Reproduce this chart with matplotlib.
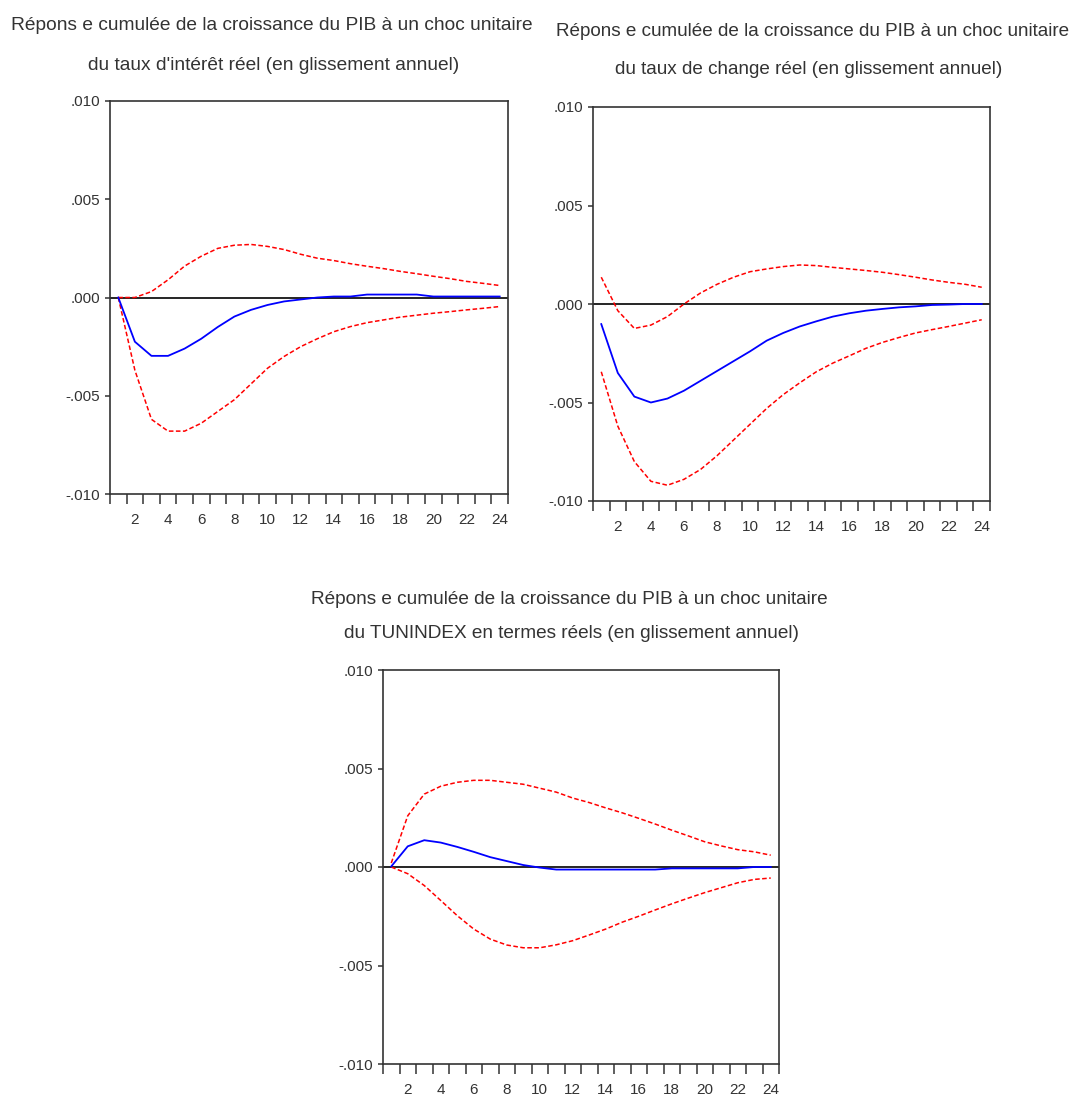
import matplotlib
matplotlib.use("Agg")
import matplotlib.pyplot as plt
import numpy as np

periods = list(range(1, 25))

# Panel 1: real interest rate shock
p1_resp = [0.0, -0.00225, -0.00297, -0.00297, -0.0026, -0.0021, -0.0015, -0.00097, -0.00063,
           -0.00038, -0.0002, -0.0001, 0.0, 0.00005, 0.00005, 0.00015, 0.00015, 0.00015, 0.00015,
           0.00005, 0.00005, 0.00005, 0.00005, 0.00005]
p1_upper = [0.0, 0.0, 0.0003, 0.0009, 0.0016, 0.0021, 0.0025, 0.00266, 0.0027, 0.0026, 0.00244,
            0.0022, 0.002, 0.00188, 0.00172, 0.00159, 0.00147, 0.00133, 0.00121, 0.00108, 0.00096,
            0.00082, 0.00072, 0.00061]
p1_lower = [0.0, -0.0037, -0.0062, -0.0068, -0.0068, -0.0064, -0.0058, -0.0052, -0.0044, -0.0036,
            -0.003, -0.0025, -0.0021, -0.00174, -0.00148, -0.00128, -0.00114, -0.001, -0.0009,
            -0.0008, -0.00072, -0.00063, -0.00055, -0.00046]

# Panel 2: real exchange rate shock
p2_resp = [-0.00102, -0.0035, -0.0047, -0.005, -0.0048, -0.0044, -0.0039, -0.0034, -0.0029,
           -0.0024, -0.00186, -0.00147, -0.00114, -0.00088, -0.00064, -0.00047, -0.00034,
           -0.00025, -0.00017, -0.00012, -0.00005, -0.00003, 0.0, 0.0]
p2_upper = [0.00136, -0.00034, -0.00124, -0.00107, -0.00064, 0.0, 0.00056, 0.001, 0.00136,
            0.00164, 0.00178, 0.0019, 0.00198, 0.00195, 0.00186, 0.00178, 0.0017, 0.00161,
            0.00149, 0.00136, 0.00122, 0.0011, 0.001, 0.00085]
p2_lower = [-0.00344, -0.0062, -0.008, -0.009, -0.0092, -0.0089, -0.0084, -0.0077, -0.0069,
            -0.0061, -0.0053, -0.0046, -0.004, -0.00344, -0.003, -0.00263, -0.00225, -0.00195,
            -0.0017, -0.00147, -0.0013, -0.00114, -0.00097, -0.0008]

# Panel 3: TUNINDEX shock
p3_resp = [0.00003, 0.00105, 0.00136, 0.00124, 0.00102, 0.00077, 0.0005, 0.0003, 0.0001,
           -0.00003, -0.00013, -0.00013, -0.00013, -0.00013, -0.00013, -0.00013, -0.00013,
           -0.00007, -0.00007, -0.00007, -0.00007, -0.00007, 0.0, 0.0]
p3_upper = [0.0002, 0.0026, 0.0037, 0.0041, 0.0043, 0.0044, 0.0044, 0.0043, 0.0042, 0.004,
            0.0038, 0.0035, 0.00327, 0.003, 0.00275, 0.00247, 0.00218, 0.00187, 0.00158,
            0.00128, 0.00107, 0.00088, 0.00077, 0.0006]
p3_lower = [0.0, -0.00034, -0.00094, -0.0017, -0.00247, -0.00315, -0.00366, -0.00396, -0.0041,
            -0.0041, -0.00395, -0.00374, -0.00345, -0.00315, -0.0028, -0.0025, -0.00218,
            -0.00187, -0.00158, -0.0013, -0.00105, -0.0008, -0.00063, -0.00056]

title_lines = [
    ("Répons e cumulée de la croissance du PIB à un choc unitaire",
     "du taux d'intérêt réel (en glissement annuel)"),
    ("Répons e cumulée de la croissance du PIB à un choc unitaire",
     "du taux de change réel (en glissement annuel)"),
    ("Répons e cumulée de la croissance du PIB à un choc unitaire",
     "du TUNINDEX en termes réels (en glissement annuel)"),
]
ytick_vals = [-0.010, -0.005, 0.0, 0.005, 0.010]
ytick_labels = ["-.010", "-.005", ".000", ".005", ".010"]
xtick_labels = [str(v) for v in range(2, 25, 2)]

FONT = ["Liberation Sans", "DejaVu Sans"]
TXT = "#333333"

fig = plt.figure(figsize=(10.78, 10.97), dpi=100)
W, H = 1078, 1097

def make_ax(l, r, t, b):
    return fig.add_axes([l / W, 1 - b / H, (r - l) / W, (b - t) / H])

axes = [make_ax(110, 508, 101, 494), make_ax(593, 990, 107, 501), make_ax(383, 779, 670, 1064)]
data = [(p1_resp, p1_upper, p1_lower), (p2_resp, p2_upper, p2_lower), (p3_resp, p3_upper, p3_lower)]

# title placement in pixels: (center x, y) for each line, and target width of line 1
title_pos = [((272, 26), (274, 66), 525),
             ((813, 31), (809, 70), 518),
             ((569, 599), (571, 633), 521)]

for ax, (resp, up, lo) in zip(axes, data):
    ax.axhline(0, color="black", lw=1.2, zorder=1)
    ax.plot(periods, up, color="red", lw=1.1, ls=(0, (3, 1.6)), zorder=2)
    ax.plot(periods, lo, color="red", lw=1.1, ls=(0, (3, 1.6)), zorder=2)
    ax.plot(periods, resp, color="blue", lw=1.3, zorder=3)
    ax.set_xlim(0.5, 24.5)
    ax.set_ylim(-0.010, 0.010)
    ax.set_yticks(ytick_vals)
    ax.set_yticklabels(ytick_labels, family=FONT, fontsize=11, color=TXT)
    ax.set_xticks(np.arange(0.5, 25, 1.0))
    ax.set_xticklabels([])
    ax.set_xticks(range(2, 25, 2), minor=True)
    ax.set_xticklabels(xtick_labels, minor=True, family=FONT, fontsize=11, color=TXT)
    ax.tick_params(axis="x", which="major", direction="out", length=7, width=1.1, color="#333333")
    ax.tick_params(axis="x", which="minor", length=0, pad=14)
    ax.tick_params(axis="y", direction="out", length=3.6, width=1.1, color="#333333", pad=3.6)
    for s in ax.spines.values():
        s.set_linewidth(1.2)
        s.set_color("#333333")

renderer = fig.canvas.get_renderer()
for (l1, l2), ((x1, y1), (x2, y2), target) in zip(title_lines, title_pos):
    t1 = fig.text(x1 / W, 1 - y1 / H, l1, family=FONT, fontsize=14, color=TXT,
                  ha="center", va="center")
    w = t1.get_window_extent(renderer).width
    fs = 14 * target / w
    t1.set_fontsize(fs)
    fig.text(x2 / W, 1 - y2 / H, l2, family=FONT, fontsize=fs, color=TXT,
             ha="center", va="center")

fig.savefig("out.png", dpi=100)
